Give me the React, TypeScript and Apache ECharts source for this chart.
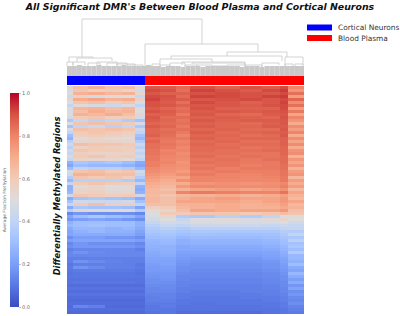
import React, { useEffect, useRef } from "react";
import * as echarts from "echarts";

const titleText = "All Significant DMR's Between Blood Plasma and Cortical Neurons";
const rowAxisText = "Differentially Methylated Regions";
const colorbarName = "Average Fraction Methylation";
const groupNames = ["Cortical Neurons", "Blood Plasma"];
const groupColors = ["#0000ff", "#ff0000"];
const groupSizes = [78, 159];
const coolwarm = ["#3b4cc0", "#5977e3", "#7b9ff9", "#9ebeff", "#c0d4f5", "#dddcdc", "#f2cbb7", "#f7ac8e", "#ee8468", "#d65244", "#b40426"];
const colorbarTop = [1];

// sample position of each heat-map column edge
const columnEdges = [0, 6, 21, 38, 55, 68, 78, 93, 109, 123, 148, 173, 195, 213, 221, 237];

// fraction methylation in percent; one row per region, one value per column block
const heatRows = [
  [55,64,68,62,64,52,89,88,85,90,87,90,88,91,80],
  [47,62,57,60,54,47,91,90,84,92,90,88,91,93,76],
  [52,68,70,66,68,54,89,87,87,90,91,90,89,91,84],
  [44,57,47,52,50,42,91,90,85,92,91,90,92,93,74],
  [54,70,72,68,70,57,92,89,88,89,90,91,89,91,86],
  [50,62,64,60,62,48,90,88,84,91,89,87,89,92,78],
  [40,52,47,44,48,40,90,89,87,89,89,88,90,91,84],
  [52,66,68,64,66,52,88,86,84,90,87,87,87,91,74],
  [48,64,70,66,68,50,90,88,85,88,89,88,89,90,82],
  [52,68,66,70,64,54,87,87,82,89,86,85,88,89,72],
  [46,60,62,58,60,46,89,85,85,87,88,87,86,90,80],
  [34,42,38,40,36,32,88,86,83,89,87,88,88,89,76],
  [50,62,64,62,60,48,86,85,84,87,86,85,87,89,70],
  [32,40,44,38,42,34,88,86,82,88,86,86,88,88,78],
  [48,64,62,64,62,44,86,84,84,86,87,85,85,89,74],
  [40,60,62,60,58,40,86,85,82,88,85,86,87,88,80],
  [30,58,60,58,56,32,87,84,80,86,86,84,85,89,70],
  [26,52,54,52,52,28,84,83,82,87,85,86,86,87,78],
  [38,54,56,56,54,36,86,82,80,85,86,84,84,87,72],
  [46,64,62,62,60,44,84,83,81,86,84,85,85,87,78],
  [38,56,60,58,58,38,84,82,79,85,85,83,84,86,70],
  [46,62,60,60,58,46,83,80,80,85,84,84,85,86,76],
  [42,58,56,56,56,40,83,81,78,84,84,83,83,86,78],
  [48,60,62,58,60,46,82,80,79,85,83,84,83,85,68],
  [42,56,54,54,52,40,82,79,78,83,84,82,84,85,76],
  [26,34,32,34,30,24,81,80,76,84,83,82,82,85,72],
  [22,30,28,28,26,22,81,78,77,82,83,81,82,84,76],
  [30,40,38,38,36,28,79,77,76,83,81,82,82,84,68],
  [48,62,64,60,62,46,78,76,74,81,82,81,81,83,74],
  [44,68,66,64,64,42,76,74,77,82,80,80,81,83,76],
  [36,62,60,62,58,36,74,72,72,80,80,79,80,82,66],
  [28,38,38,38,36,28,72,70,77,80,79,79,79,82,74],
  [42,60,62,60,58,40,70,68,70,76,77,76,77,79,70],
  [26,52,54,50,52,26,68,66,75,79,78,78,78,81,74],
  [26,54,56,52,52,24,66,64,68,72,74,72,74,77,66],
  [28,56,58,54,54,26,66,66,80,82,81,80,80,83,72],
  [46,62,60,58,60,44,65,62,66,68,70,68,70,73,68],
  [24,32,34,32,30,24,66,64,69,72,74,72,72,75,66],
  [32,46,44,44,46,32,66,64,72,72,72,70,72,75,72],
  [42,60,64,58,58,40,64,64,68,68,70,68,70,73,66],
  [24,34,32,32,30,22,58,60,66,68,70,68,68,71,68],
  [38,54,52,52,52,36,52,54,64,72,70,72,72,75,64],
  [14,18,16,16,16,14,50,60,60,62,62,60,62,65,62],
  [22,30,34,30,28,22,48,54,36,34,38,36,40,50,52],
  [18,20,22,20,18,16,46,50,42,50,52,48,52,54,50],
  [26,30,30,30,30,26,42,46,46,48,48,48,48,50,46],
  [28,30,32,30,30,26,38,42,40,44,44,44,42,44,42],
  [24,28,28,26,28,24,36,38,36,38,38,38,38,40,42],
  [22,26,28,26,26,22,34,35,33,34,34,34,34,37,36],
  [22,24,24,24,24,20,32,33,31,32,31,31,32,35,40],
  [16,20,20,18,18,16,30,31,28,29,29,29,30,33,34],
  [20,22,22,22,22,20,28,29,25,27,27,27,28,31,38],
  [14,18,16,16,16,14,27,28,25,26,26,26,27,30,32],
  [16,18,18,18,18,16,26,26,23,24,24,24,25,28,34],
  [12,14,14,14,14,12,25,26,23,23,23,23,24,27,30],
  [14,17,15,14,14,14,24,25,21,21,21,21,22,25,36],
  [14,14,14,14,14,14,23,24,20,20,20,20,21,24,28],
  [12,12,12,12,12,12,22,22,19,18,18,18,20,22,28],
  [12,17,15,13,12,12,21,21,18,17,17,17,18,21,26],
  [10,12,12,12,12,10,20,21,17,16,16,16,17,20,30],
  [11,17,15,12,12,11,19,20,16,16,16,16,17,19,24],
  [10,11,11,11,11,10,19,19,16,15,15,15,16,18,22],
  [9,10,10,10,10,9,18,18,15,14,14,14,15,17,28],
  [10,10,10,10,10,10,17,18,14,14,14,14,15,16,24],
  [9,9,9,9,9,9,16,17,14,13,13,13,14,16,20],
  [9,10,10,10,10,9,16,16,13,13,13,13,14,15,24],
  [8,8,8,8,8,8,15,15,13,12,12,12,13,15,18],
  [9,9,9,9,9,9,14,15,12,12,12,12,13,14,21],
  [8,8,8,8,8,8,14,14,12,11,11,12,12,14,16],
  [9,9,9,9,9,9,13,13,11,11,11,11,12,13,18],
  [8,8,8,8,8,8,12,13,11,10,10,11,11,12,15],
  [7,7,7,7,7,7,12,12,10,10,10,10,11,12,14],
  [8,8,8,8,8,8,11,11,10,9,10,10,10,11,16],
  [7,14,12,7,7,7,10,11,9,9,9,9,10,11,13],
  [8,8,8,8,8,8,10,10,9,9,9,9,9,10,12],
  [7,7,7,7,7,7,9,10,8,8,8,8,9,10,11],
];

// dendrogram merges: left position, right position, left child height, right child height, merge height
const merges = [
  [15,135,19,32,57],
  [2,26,14,18,19],
  [10,45,14,15,18],
  [0,6,10,10,14],
  [6,18,11,11,14],
  [21,33,10,10,13],
  [30,50,10,10,14],
  [40,60,9,11,13],
  [50,68,8,8,12],
  [60,76,9,9,11],
  [78,191,4,24,32],
  [160,220,20,19,24],
  [104,215,17,15,20],
  [93,145,12,14,17],
  [115,178,11,11,14],
  [125,178,12,10,13],
  [85,93,9,9,12],
  [93,103,9,9,11],
  [103,118,9,10,13],
  [118,130,9,9,11],
  [130,145,9,9,11],
  [145,160,9,9,10],
  [160,178,9,10,11],
  [178,195,9,9,11],
  [195,212,9,11,13],
  [218,236,10,11,19],
  [218,226,8,8,12],
  [228,236,9,9,12],
];
// height of the leaf fringe along the samples
const leafHeights = [10,10,11,10,10,10,11,10,10,10,10,11,10,10,10,10,11,10,10,9,10,10,10,9,10,10,10,9,10,10,10,10,10,10,10,9,10,10,10,9,10,10,10,10,10,10,10,10];
const leafStep = 237 / leafHeights.length;

const heatData: number[][] = [];
heatRows.forEach((row, r) => row.forEach((v, c) => heatData.push([c, r, v / 100])));

export default function App() {
  const ref = useRef<HTMLDivElement>(null);
  useEffect(() => {
    const chart = echarts.init(ref.current!, undefined, { renderer: "svg" });
    const hiddenAxis = { show: false };
    chart.setOption({
      animation: false,
      backgroundColor: "#fff",
      textStyle: { fontFamily: "DejaVu Sans" },
      title: {
        text: titleText,
        left: 195,
        top: -3,
        textAlign: "center",
        textStyle: { fontSize: 9.4, fontWeight: "bold", fontStyle: "italic", color: "#111", fontFamily: "DejaVu Sans" },
      },
      legend: {
        orient: "vertical",
        left: 307,
        top: 24,
        itemWidth: 25,
        itemHeight: 6,
        itemGap: 3.5,
        icon: "rect",
        padding: 0,
        data: groupNames,
        textStyle: { fontSize: 7.4, color: "#333", padding: [0, 0, 0, 1] },
      },
      grid: [
        { left: 67, top: 86, width: 237, height: 228 },
        { left: 67, top: 19, width: 237, height: 57 },
        { left: 67, top: 76, width: 237, height: 9 },
        { left: 10, top: 93, width: 9, height: 214 },
      ],
      xAxis: [
        { gridIndex: 0, type: "value", min: 0, max: 237, ...hiddenAxis },
        { gridIndex: 1, type: "value", min: 0, max: 237, ...hiddenAxis },
        { gridIndex: 2, type: "value", min: 0, max: 237, ...hiddenAxis },
        { gridIndex: 3, type: "category", data: [""], ...hiddenAxis },
      ],
      yAxis: [
        { gridIndex: 0, type: "value", min: 0, max: heatRows.length, inverse: true, ...hiddenAxis },
        { gridIndex: 1, type: "value", min: 0, max: 57, ...hiddenAxis },
        { gridIndex: 2, type: "category", data: [""], ...hiddenAxis },
        {
          gridIndex: 3,
          type: "value",
          position: "right",
          min: 0,
          max: 1,
          interval: 0.2,
          splitLine: { show: false },
          axisLine: { show: false },
          axisTick: { show: true, length: 2, lineStyle: { color: "#888", width: 0.5 } },
          axisLabel: { fontSize: 5, color: "#666", margin: 3, formatter: (v: number) => v.toFixed(1) },
        },
      ],
      visualMap: {
        show: false,
        seriesIndex: 0,
        dimension: 2,
        min: 0,
        max: 1,
        inRange: { color: coolwarm },
      },
      series: [
        {
          type: "custom",
          xAxisIndex: 0,
          yAxisIndex: 0,
          silent: true,
          data: heatData,
          renderItem: (_: any, api: any) => {
            const c = api.value(0);
            const r = api.value(1);
            const a = api.coord([columnEdges[c], r]);
            const b = api.coord([columnEdges[c + 1], r + 1]);
            return {
              type: "rect",
              shape: { x: a[0], y: a[1], width: b[0] - a[0], height: b[1] - a[1] },
              style: { fill: api.visual("color") },
            };
          },
        },
        {
          type: "custom",
          xAxisIndex: 1,
          yAxisIndex: 1,
          silent: true,
          data: leafHeights.map((h, i) => [i, h]),
          renderItem: (_: any, api: any) => {
            const a = api.coord([api.value(0) * leafStep, api.value(1)]);
            const b = api.coord([(api.value(0) + 1) * leafStep, 0]);
            return {
              type: "rect",
              shape: { x: a[0], y: a[1], width: b[0] - a[0], height: b[1] - a[1] },
              style: { fill: "#c9c9c9" },
            };
          },
        },
        {
          type: "custom",
          xAxisIndex: 1,
          yAxisIndex: 1,
          silent: true,
          data: merges,
          renderItem: (_: any, api: any) => {
            const p1 = api.coord([api.value(0), api.value(2)]);
            const p2 = api.coord([api.value(0), api.value(4)]);
            const p3 = api.coord([api.value(1), api.value(4)]);
            const p4 = api.coord([api.value(1), api.value(3)]);
            return {
              type: "polyline",
              shape: { points: [p1, p2, p3, p4] },
              style: { stroke: "#c8c8c8", lineWidth: 0.8, fill: "none" },
            };
          },
        },
        ...groupNames.map((name, i) => ({
          name,
          type: "bar",
          stack: "groups",
          xAxisIndex: 2,
          yAxisIndex: 2,
          barWidth: "100%",
          silent: true,
          itemStyle: { color: groupColors[i] },
          data: [groupSizes[i]],
        })),
        {
          type: "bar",
          xAxisIndex: 3,
          yAxisIndex: 3,
          barWidth: "100%",
          silent: true,
          data: colorbarTop,
          itemStyle: {
            color: new echarts.graphic.LinearGradient(
              0, 1, 0, 0,
              coolwarm.map((color, i) => ({ offset: i / (coolwarm.length - 1), color }))
            ),
          },
        },
      ],
      graphic: [
        {
          type: "text",
          x: 57,
          y: 196,
          rotation: Math.PI / 2,
          style: {
            text: rowAxisText,
            textAlign: "center",
            textVerticalAlign: "middle",
            fontSize: 8.4,
            fontWeight: "bold",
            fontStyle: "italic",
            fontFamily: "DejaVu Sans",
            fill: "#111",
          },
        },
        {
          type: "text",
          x: 4,
          y: 200,
          rotation: Math.PI / 2,
          style: {
            text: colorbarName,
            textAlign: "center",
            textVerticalAlign: "middle",
            fontSize: 4.4,
            fontFamily: "DejaVu Sans",
            fill: "#666",
          },
        },
      ],
    });
    return () => chart.dispose();
  }, []);
  return <div ref={ref} style={{ position: "fixed", left: 0, top: 0, width: 400, height: 316 }} />;
}
